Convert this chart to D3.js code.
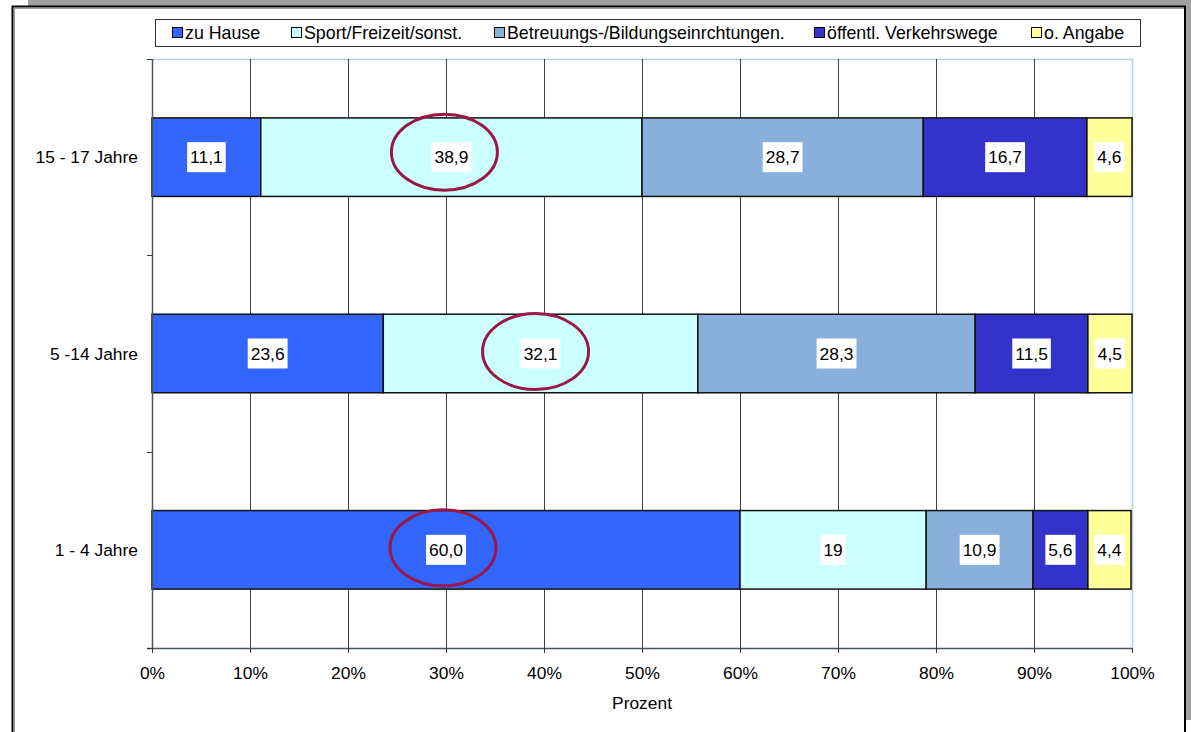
<!DOCTYPE html>
<html><head><meta charset="utf-8">
<script src="https://cdn.jsdelivr.net/npm/d3@7"></script>
<style>
html,body{margin:0;padding:0;background:#fff;}
text{font-family:"Liberation Sans",Arial,sans-serif;}
</style></head>
<body><svg id="c" width="1191" height="732"></svg>
<script>
const categories = ["15 - 17 Jahre", "5 -14 Jahre", "1 - 4 Jahre"];
const seriesNames = ["zu Hause", "Sport/Freizeit/sonst.", "Betreuungs-/Bildungseinrchtungen.", "öffentl. Verkehrswege", "o. Angabe"];
const seriesColors = ["#3366FF", "#CCFFFF", "#89AFDB", "#3333CC", "#FFFF99"];
const zuHause    = [11.1, 23.6, 60.0];
const sport      = [38.9, 32.1, 19];
const betreuung  = [28.7, 28.3, 10.9];
const verkehr    = [16.7, 11.5, 5.6];
const keineAng   = [4.6, 4.5, 4.4];
const labelText = [
  ["11,1", "38,9", "28,7", "16,7", "4,6"],
  ["23,6", "32,1", "28,3", "11,5", "4,5"],
  ["60,0", "19", "10,9", "5,6", "4,4"]
];
const xTicks = [0, 10, 20, 30, 40, 50, 60, 70, 80, 90, 100];
const xTickLabels = ["0%", "10%", "20%", "30%", "40%", "50%", "60%", "70%", "80%", "90%", "100%"];
const xTitle = "Prozent";
// highlighted segments (row, series)
const highlights = [[0, 1], [1, 1], [2, 0]];

const svg = d3.select("#c");
const FONT = 17.4;
const LFONT = 17.8;

// frame
svg.append("rect").attr("x", 28).attr("y", 0).attr("width", 1163).attr("height", 6).attr("fill", "#a0a0a0");
svg.append("rect").attr("x", 1186).attr("y", 0).attr("width", 5).attr("height", 720).attr("fill", "#a0a0a0");
svg.append("rect").attr("x", 12.5).attr("y", 6.5).attr("width", 1172.5).attr("height", 740).attr("fill", "#fff").attr("stroke", "#000").attr("stroke-width", 2);
svg.append("line").attr("x1", 14.5).attr("x2", 14.5).attr("y1", 8).attr("y2", 732).attr("stroke", "#999").attr("stroke-width", 1);
svg.append("line").attr("x1", 14).attr("x2", 1184).attr("y1", 8.5).attr("y2", 8.5).attr("stroke", "#999").attr("stroke-width", 1);

const L = 152, R = 1132, T = 59, B = 648;
const x = d3.scaleLinear().domain([0, 100]).range([L, R]);
const y = d3.scaleBand().domain(categories).range([T, B]).paddingInner(0.6).paddingOuter(0.3);

const g = svg.append("g");
// plot border top/right
g.append("line").attr("x1", L).attr("x2", R + 0.5).attr("y1", T + 0.5).attr("y2", T + 0.5).attr("stroke", "#b8cce4").attr("stroke-width", 1.5);
g.append("line").attr("x1", R + 0.5).attr("x2", R + 0.5).attr("y1", T).attr("y2", B).attr("stroke", "#b8cce4").attr("stroke-width", 1.5);

// gridlines
g.selectAll(".grid").data(xTicks.filter(d => d > 0 && d < 100)).join("line")
  .attr("x1", d => Math.round(x(d)) + 0.5).attr("x2", d => Math.round(x(d)) + 0.5)
  .attr("y1", T).attr("y2", B).attr("stroke", "#404040").attr("stroke-width", 1);

// stacked data
const rows = categories.map((c, i) => {
  const vals = [zuHause[i], sport[i], betreuung[i], verkehr[i], keineAng[i]];
  let acc = 0;
  return vals.map((v, j) => { const s = acc; acc += v; return {cat: c, row: i, series: j, x0: s, x1: acc, label: labelText[i][j]}; });
});
const segs = rows.flat();

g.selectAll(".seg").data(segs).join("rect")
  .attr("x", d => x(d.x0)).attr("width", d => x(d.x1) - x(d.x0))
  .attr("y", d => y(d.cat)).attr("height", y.bandwidth())
  .attr("fill", d => seriesColors[d.series]).attr("stroke", "#111").attr("stroke-width", 1.5);

// axes
const xAxis = d3.axisBottom(x).tickValues(xTicks).tickFormat((d, i) => xTickLabels[i]).tickSize(5).tickPadding(14);
const xa = g.append("g").attr("transform", `translate(0,${B})`).call(xAxis);
xa.select(".domain").attr("stroke", "#4a5560").attr("stroke-width", 1.5).attr("d", `M${L - 5},0.5H${R}`);
xa.selectAll(".tick line").attr("stroke", "#333");
xa.selectAll("text").attr("font-size", FONT).attr("fill", "#000").style("font-family", "'Liberation Sans', Arial, sans-serif");

const yBound = d3.range(categories.length + 1).map(i => T + i * y.step());
g.append("line").attr("x1", L + 0.5).attr("x2", L + 0.5).attr("y1", T).attr("y2", B).attr("stroke", "#4a5560").attr("stroke-width", 1.5);
g.selectAll(".ytick").data(yBound).join("line")
  .attr("x1", L - 5).attr("x2", L).attr("y1", d => Math.round(d) + 0.5).attr("y2", d => Math.round(d) + 0.5)
  .attr("stroke", "#333");
g.selectAll(".ylab").data(categories).join("text")
  .attr("x", 138).attr("y", d => y(d) + y.bandwidth() / 2).attr("dy", "0.35em")
  .attr("text-anchor", "end").attr("font-size", FONT).text(d => d);

g.append("text").attr("x", (L + R) / 2).attr("y", 709).attr("text-anchor", "middle").attr("font-size", FONT).text(xTitle);

// data labels
const lab = g.selectAll(".lab").data(segs).join("g")
  .attr("transform", d => `translate(${x((d.x0 + d.x1) / 2)},${y(d.cat) + y.bandwidth() / 2})`);
lab.append("text").attr("text-anchor", "middle").attr("dy", "0.35em").attr("font-size", FONT).text(d => d.label);
lab.each(function() {
  const t = d3.select(this).select("text");
  const w = t.node().getComputedTextLength();
  d3.select(this).insert("rect", "text").attr("x", -w / 2 - 3).attr("y", -15).attr("width", w + 6).attr("height", 30).attr("fill", "#fff");
});

// highlight ellipses
const hoff = [[-7, -5], [-5, -2], [-3, -2]];
g.selectAll(".ell").data(highlights).join("ellipse")
  .attr("cx", (d, i) => { const s = rows[d[0]][d[1]]; return x((s.x0 + s.x1) / 2) + hoff[i][0]; })
  .attr("cy", (d, i) => y(categories[d[0]]) + y.bandwidth() / 2 + hoff[i][1])
  .attr("rx", 53).attr("ry", 38)
  .attr("fill", "none").attr("stroke", "#9B1845").attr("stroke-width", 3);

// legend
svg.append("rect").attr("x", 155.5).attr("y", 19.5).attr("width", 985).attr("height", 27).attr("fill", "#fff").attr("stroke", "#333").attr("stroke-width", 1);
const legX = [172, 291, 494, 814, 1031];
const lg = svg.selectAll(".leg").data(seriesNames).join("g").attr("transform", (d, i) => `translate(${legX[i]},0)`);
lg.append("rect").attr("x", 0.5).attr("y", 27.5).attr("width", 10).attr("height", 10).attr("fill", (d, i) => seriesColors[i]).attr("stroke", "#000").attr("stroke-width", 1);
lg.append("text").attr("x", 13).attr("y", 33).attr("dy", "0.35em").attr("font-size", LFONT).text(d => d);
</script></body></html>
